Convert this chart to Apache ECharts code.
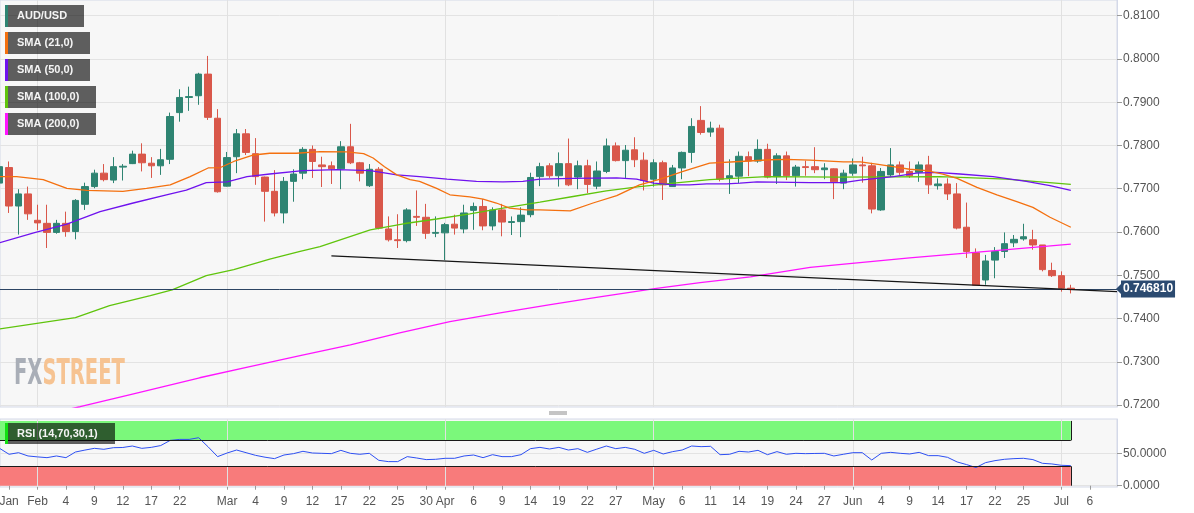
<!DOCTYPE html>
<html>
<head>
<meta charset="utf-8">
<title>AUD/USD</title>
<script src="https://cdn.jsdelivr.net/npm/echarts@6.0.0/dist/echarts.min.js"></script>
<style>
html, body { margin: 0; padding: 0; background: #fff; }
#charts-box { width: 1194px; height: 513px; }
</style>
</head>
<body>
<div id="charts-box"></div>
<script>
// daily candles, index 0 = Jan 26 (trading days only)
var opens = [0.7713,0.7749,0.7660,0.7688,0.7627,0.7620,0.7599,0.7620,0.7601,0.7664,
0.7705,0.7736,0.7720,0.7750,0.7758,0.7780,0.7759,0.7753,0.7768,0.7876,
0.7911,0.7915,0.7965,0.7863,0.7706,0.7774,0.7827,0.7781,0.7727,0.7694,
0.7644,0.7717,0.7736,0.7791,0.7755,0.7753,0.7746,0.7797,0.7760,0.7707,
0.7745,0.7607,0.7582,0.7580,0.7636,0.7634,0.7597,0.7598,0.7618,0.7607,
0.7650,0.7659,0.7614,0.7651,0.7622,0.7624,0.7640,0.7728,0.7753,0.7730,
0.7758,0.7727,0.7753,0.7706,0.7740,0.7799,0.7765,0.7790,0.7766,0.7722,
0.7760,0.7705,0.7748,0.7784,0.7858,0.7831,0.7840,0.7725,0.7729,0.7774,
0.7764,0.7791,0.7728,0.7776,0.7730,0.7751,0.7751,0.7744,0.7746,0.7713,
0.7736,0.7755,0.7753,0.7651,0.7732,0.7755,0.7740,0.7738,0.7755,0.7707,
0.7711,0.7688,0.7611,0.7552,0.7489,0.7535,0.7555,0.7575,0.7584,0.7582,
0.7570,0.7511,0.7499,0.7470];
var closes = [0.7751,0.7660,0.7688,0.7642,0.7621,0.7599,0.7620,0.7601,0.7673,0.7705,
0.7736,0.7721,0.7751,0.7752,0.7780,0.7760,0.7753,0.7767,0.7867,0.7911,
0.7913,0.7965,0.7865,0.7693,0.7772,0.7827,0.7784,0.7728,0.7694,0.7644,
0.7717,0.7734,0.7791,0.7763,0.7751,0.7746,0.7797,0.7760,0.7736,0.7745,
0.7609,0.7582,0.7580,0.7651,0.7634,0.7597,0.7599,0.7617,0.7609,0.7644,
0.7659,0.7614,0.7651,0.7623,0.7624,0.7639,0.7726,0.7751,0.7730,0.7758,
0.7709,0.7753,0.7710,0.7741,0.7799,0.7765,0.7789,0.7767,0.7719,0.7760,
0.7709,0.7748,0.7784,0.7844,0.7830,0.7840,0.7722,0.7730,0.7775,0.7764,
0.7791,0.7727,0.7776,0.7730,0.7750,0.7749,0.7744,0.7748,0.7716,0.7736,
0.7755,0.7753,0.7653,0.7740,0.7755,0.7738,0.7730,0.7755,0.7709,0.7711,
0.7688,0.7609,0.7555,0.7477,0.7533,0.7555,0.7573,0.7583,0.7589,0.7570,
0.7513,0.7499,0.7470,0.74681];
var lows = [0.7670,0.7644,0.7594,0.7628,0.7604,0.7563,0.7596,0.7589,0.7583,0.7651,
0.7701,0.7717,0.7713,0.7719,0.7757,0.7740,0.7725,0.7732,0.7757,0.7855,
0.7880,0.7894,0.7859,0.7691,0.7705,0.7736,0.7778,0.7709,0.7624,0.7636,
0.7620,0.7670,0.7722,0.7725,0.7704,0.7711,0.7699,0.7757,0.7717,0.7704,
0.7606,0.7578,0.7563,0.7576,0.7614,0.7584,0.7588,0.7535,0.7594,0.7597,
0.7605,0.7604,0.7604,0.7590,0.7593,0.7588,0.7634,0.7706,0.7725,0.7705,
0.7706,0.7699,0.7690,0.7699,0.7736,0.7763,0.7725,0.7750,0.7696,0.7705,
0.7674,0.7705,0.7722,0.7760,0.7825,0.7820,0.7717,0.7688,0.7713,0.7729,
0.7760,0.7724,0.7711,0.7720,0.7705,0.7730,0.7736,0.7722,0.7676,0.7699,
0.7730,0.7714,0.7643,0.7649,0.7727,0.7732,0.7725,0.7716,0.7688,0.7698,
0.7674,0.7606,0.7540,0.7477,0.7478,0.7493,0.7540,0.7565,0.7580,0.7559,
0.7509,0.7496,0.7462,0.7458];
var highs = [0.7767,0.7763,0.7699,0.7705,0.7663,0.7663,0.7628,0.7647,0.7676,0.7714,
0.7744,0.7757,0.7773,0.7757,0.7788,0.7805,0.7773,0.7792,0.7876,0.7930,
0.7936,0.7968,0.8007,0.7884,0.7785,0.7838,0.7838,0.7817,0.7728,0.7743,
0.7727,0.7745,0.7796,0.7800,0.7774,0.7763,0.7810,0.7850,0.7762,0.7757,
0.7750,0.7636,0.7641,0.7655,0.7696,0.7665,0.7636,0.7621,0.7640,0.7663,
0.7668,0.7676,0.7657,0.7665,0.7636,0.7657,0.7737,0.7760,0.7759,0.7784,
0.7816,0.7765,0.7767,0.7763,0.7816,0.7807,0.7801,0.7819,0.7784,0.7768,
0.7765,0.7755,0.7786,0.7863,0.7891,0.7855,0.7848,0.7768,0.7786,0.7786,
0.7814,0.7804,0.7782,0.7786,0.7755,0.7765,0.7796,0.7759,0.7747,0.7744,
0.7770,0.7774,0.7760,0.7748,0.7794,0.7763,0.7763,0.7763,0.7776,0.7724,
0.7724,0.7713,0.7668,0.7562,0.7547,0.7565,0.7599,0.7593,0.7619,0.7605,
0.7570,0.7529,0.7509,0.7478];
var lastPrice = 0.74681;

// moving averages: [day index, value]
var sma21 = [[0,0.7728],[1.8,0.7728],[4.6,0.7721],[7.1,0.7701],[9.2,0.7696],[13,0.7694],[15.5,0.7701],
[18,0.7709],[20.1,0.7728],[22,0.7748],[23.3,0.7749],[24.7,0.7763],[26.8,0.7778],[28.5,0.7782],
[31.3,0.7782],[33.8,0.7786],[36.6,0.7785],[38.4,0.7781],[39.4,0.7771],[40.6,0.7751],[41.9,0.7732],
[43.3,0.7721],[44.3,0.7717],[46.1,0.7701],[47.5,0.7686],[49.6,0.7681],[51,0.7676],[52.4,0.7667],
[53.8,0.7655],[55.6,0.7651],[57,0.7651],[60.2,0.7649],[62.6,0.7667],[65.1,0.7684],[67.5,0.7709],
[69.7,0.7722],[72.1,0.7740],[74.9,0.7759],[78.1,0.7763],[81.3,0.7767],[83,0.7768],[85.5,0.7766],
[89,0.7762],[90.8,0.7762],[92.5,0.7757],[94.6,0.7750],[96,0.7745],[97.8,0.7742],[99.5,0.7734],
[101,0.7724],[103.1,0.7703],[105.2,0.7686],[107.3,0.7670],[109,0.7657],[110.8,0.7634],[113,0.7611]];
var sma50 = [[0,0.7575],[3.6,0.7598],[7.1,0.7618],[10.6,0.7647],[14.1,0.7667],[17.6,0.7686],[19.7,0.7697],
[21.8,0.7714],[24,0.7716],[26.1,0.7728],[28.5,0.7734],[32,0.7742],[35.6,0.7744],[39.1,0.7742],
[41.9,0.7732],[44.3,0.7728],[47.2,0.7722],[50.3,0.7717],[53.1,0.7716],[55.2,0.7717],[57,0.7722],
[60.5,0.7724],[65.1,0.7725],[67.2,0.7722],[69,0.7713],[71.1,0.7709],[72.8,0.7709],[74.6,0.7711],
[76.7,0.7711],[78.1,0.7713],[79.9,0.7716],[85.5,0.7714],[89,0.7714],[90.8,0.7720],[94.3,0.7728],
[96.7,0.7736],[98.8,0.7738],[101.3,0.7734],[104.8,0.7728],[108.3,0.7717],[110.8,0.7707],[113,0.7696]];
var sma100 = [[0,0.7376],[8,0.7402],[11.6,0.7430],[15.9,0.7453],[18.2,0.7466],[21.8,0.7499],[24.7,0.7513],
[28.5,0.7537],[31.7,0.7555],[33.8,0.7566],[39.1,0.7605],[42.6,0.7619],[46.1,0.7630],[49.6,0.7642],
[53.1,0.7655],[57,0.7669],[60.5,0.7682],[64,0.7695],[67.5,0.7705],[71.1,0.7713],[74.9,0.7721],
[80.9,0.7728],[88.6,0.7727],[99.2,0.7728],[106.2,0.7722],[113,0.7710]];
var sma200 = [[0,0.7155],[8.5,0.7196],[13.8,0.7224],[21.1,0.7263],[26.4,0.7289],[31.7,0.7314],[37,0.7339],
[42.2,0.7367],[47.5,0.7393],[52.8,0.7413],[58.1,0.7432],[63.3,0.7450],[69.1,0.7469],[73.9,0.7483],
[79.2,0.7496],[85.5,0.7518],[96,0.7540],[106.6,0.7560],[113,0.7572]];

// RSI (14)
var rsi = [57.7,48.5,51,45.9,44.5,43.3,45.9,43.3,52,55,
57.7,56.2,58.7,59,61.3,57.7,59.2,62,70,71.5,
71.5,74.1,60,44.9,50.5,55.1,51,46.9,44,41.8,
47.4,49.5,53.1,50.5,50,49.5,54.6,50,48.5,50,
39.2,37.2,37.2,44.9,42.8,40.3,40.8,42.3,42.3,45.9,
47.4,43.3,47.9,44.9,44.9,47.9,57.2,59.2,56.7,59.2,
55.1,57.2,51.5,56.5,61.3,57.2,59.2,56.2,50,54.6,
49,52.6,55.1,61.3,60.3,60.8,47.9,48.5,53.1,52,
54.6,47.9,52.6,48.5,50,49.5,49.8,50,45.9,48.5,
51,51,39.7,50,51.5,50,49,51.5,46.4,46.4,
43.8,36.7,32.6,28,35.6,38.7,40.8,41.8,42.3,40.3,
34.6,33.6,31.5,31];
var rsiUpper = 70, rsiLower = 30, rsiTop = 100;

// axis ticks
var tickIdx = [1,4,7,10,13,16,19,24,27,30,33,36,39,42,45,47,50,53,56,59,62,65,
69,72,75,78,81,84,87,90,93,96,99,102,105,108,112,115];
var tickText = ['Jan','Feb','4','9','12','17','22','Mar','4','9','12','17','22','25','30','Apr','6','9','14','19','22','27',
'May','6','11','14','19','24','27','Jun','4','9','14','17','22','25','Jul','6'];
var monthIdx = [4, 24, 47, 69, 90, 112];
var priceTicks = [0.72, 0.73, 0.74, 0.75, 0.76, 0.77, 0.78, 0.79, 0.80, 0.81];
var rsiTicks = [0, 50];

var legendNames = ['AUD/USD', 'SMA (21,0)', 'SMA (50,0)', 'SMA (100,0)', 'SMA (200,0)'];

var xMin = 0.044, xMax = 117.87;
var yMin = 0.71954, yMax = 0.81363;

// support line from mid-March low area
var trendStart = [35, 0.7545];
var trendEnd = [xMax, 0.7462];

var upColor = '#2e8472', downColor = '#d9574a', tagColor = '#2b4a70';
var smaColors = ['#f4700f', '#6f12ee', '#5fc40c', '#ff14ff'];
var font = '"Liberation Sans", Arial, sans-serif';

var kData = [];
for (var i = 0; i < opens.length; i++) {
    kData.push([i, opens[i], closes[i], lows[i], highs[i]]);
}
var rsiData = [];
for (var i = 0; i < rsi.length; i++) {
    rsiData.push([i, rsi[i]]);
}
var lastIdx = opens.length - 1;

function tickLabel(v) {
    var k = tickIdx.indexOf(v);
    return k < 0 ? '' : tickText[k];
}

function monthLines() {
    return {
        silent: true,
        symbol: 'none',
        z: 1,
        label: { show: false },
        lineStyle: { color: '#e1e1e1', width: 1, type: 'solid' },
        data: monthIdx.map(function (m) { return { xAxis: m }; })
    };
}

function smaSeries(data, color) {
    return {
        type: 'line',
        xAxisIndex: 0,
        yAxisIndex: 0,
        data: data,
        showSymbol: false,
        silent: true,
        lineStyle: { color: color, width: 1.3 }
    };
}

// legend boxes, RSI box, watermark
var graphics = [];
var boxW = [79, 85, 85, 91, 91];
var boxColors = [upColor].concat(smaColors);
for (var k = 0; k < legendNames.length; k++) {
    var boxTop = 5 + k * 27;
    graphics.push({ type: 'rect', z: 100, shape: { x: 5, y: boxTop, width: boxW[k], height: 22 }, style: { fill: 'rgba(0,0,0,0.62)' } });
    graphics.push({ type: 'rect', z: 101, shape: { x: 5, y: boxTop, width: 3, height: 22 }, style: { fill: boxColors[k] } });
    graphics.push({ type: 'text', z: 101, style: { x: 17, y: boxTop + 11, text: legendNames[k], fill: '#f4f4f4', font: 'bold 11px ' + font, verticalAlign: 'middle' } });
}
graphics.push({ type: 'rect', z: 100, shape: { x: 7, y: 423, width: 108, height: 21 }, style: { fill: 'rgba(0,0,0,0.62)' } });
graphics.push({ type: 'rect', z: 101, shape: { x: 5, y: 423, width: 3, height: 21 }, style: { fill: '#12e012' } });
graphics.push({ type: 'text', z: 101, style: { x: 17, y: 434, text: 'RSI (14,70,30,1)', fill: '#f4f4f4', font: 'bold 11px ' + font, verticalAlign: 'middle' } });
graphics.push({
    type: 'text', z: 50, x: 14, y: 375, scaleX: 0.62,
    style: {
        text: '{a|FX}{b|STREET}', verticalAlign: 'middle',
        rich: {
            a: { fill: '#a9aeb7', font: 'bold 35px "DejaVu Sans Condensed", sans-serif' },
            b: { fill: '#f6c392', font: 'bold 35px "DejaVu Sans Condensed", sans-serif' }
        }
    }
});
graphics.push({ type: 'line', z: 50, shape: { x1: 549, y1: 412, x2: 567, y2: 412 }, style: { stroke: '#8a8a8a', lineWidth: 1 } });
graphics.push({ type: 'line', z: 50, shape: { x1: 549, y1: 414, x2: 567, y2: 414 }, style: { stroke: '#8a8a8a', lineWidth: 1 } });

var app = echarts.init(document.getElementById('charts-box'));

var option = {
    animation: false,
    backgroundColor: '#ffffff',
    textStyle: { fontFamily: font },
    grid: [
        { left: 0, right: 77, top: 0, height: 407, show: true, backgroundColor: '#f7f7f7', borderColor: '#d4d9e8', borderWidth: 1, outerBoundsMode: 'none' },
        { left: 0, right: 77, top: 419, height: 68, show: true, backgroundColor: '#f7f7f7', borderColor: '#d4d9e8', borderWidth: 1, outerBoundsMode: 'none' }
    ],
    xAxis: [
        {
            gridIndex: 0, type: 'value', min: xMin, max: xMax,
            axisLine: { show: false }, axisTick: { show: false }, axisLabel: { show: false }, splitLine: { show: false }
        },
        {
            gridIndex: 1, type: 'value', min: xMin, max: xMax,
            axisLine: { show: false },
            axisTick: { show: true, customValues: tickIdx, length: 4, lineStyle: { color: '#9a9a9a' } },
            axisLabel: { customValues: tickIdx, formatter: tickLabel, color: '#555', fontSize: 12, margin: 9, fontFamily: font },
            splitLine: { show: false }
        }
    ],
    yAxis: [
        {
            gridIndex: 0, type: 'value', position: 'right', min: yMin, max: yMax,
            axisLine: { show: true, lineStyle: { color: '#d4d9e8' } },
            axisTick: { show: true, customValues: priceTicks, length: 5, lineStyle: { color: '#9a9a9a' } },
            axisLabel: { customValues: priceTicks, formatter: function (v) { return v.toFixed(4); }, color: '#555', fontSize: 12, margin: 6, fontFamily: font },
            splitLine: { show: true, lineStyle: { color: '#e3e3e3', width: 1 } }
        },
        {
            gridIndex: 1, type: 'value', position: 'right', min: -2, max: 103,
            axisLine: { show: true, lineStyle: { color: '#d4d9e8' } },
            axisTick: { show: true, customValues: rsiTicks, length: 5, lineStyle: { color: '#9a9a9a' } },
            axisLabel: { customValues: rsiTicks, formatter: function (v) { return v.toFixed(4); }, color: '#555', fontSize: 12, margin: 6, fontFamily: font },
            splitLine: { show: true, lineStyle: { color: '#e3e3e3', width: 1 } }
        }
    ],
    graphic: graphics,
    series: [
        { type: 'line', xAxisIndex: 0, yAxisIndex: 0, data: [], silent: true, markLine: monthLines() },
        { type: 'line', xAxisIndex: 1, yAxisIndex: 1, data: [], silent: true, markLine: monthLines() },
        {
            name: 'AUD/USD',
            type: 'candlestick',
            xAxisIndex: 0,
            yAxisIndex: 0,
            data: kData,
            barWidth: 7,
            itemStyle: { color: upColor, color0: downColor, borderColor: upColor, borderColor0: downColor, borderWidth: 1 },
            markLine: {
                silent: true,
                symbol: 'none',
                precision: 6,
                data: [
                    {
                        yAxis: lastPrice,
                        lineStyle: { color: '#2c4463', width: 1, type: 'solid' },
                        label: {
                            show: true, position: 'end', distance: 4,
                            formatter: lastPrice.toFixed(6),
                            backgroundColor: tagColor, color: '#fff', fontWeight: 'bold', fontSize: 12,
                            padding: [3, 2, 2, 2], fontFamily: font
                        }
                    },
                    [
                        { coord: trendStart, lineStyle: { color: '#151515', width: 1.3, type: 'solid' }, label: { show: false } },
                        { coord: trendEnd }
                    ]
                ]
            },
            // little pointer in front of the price tag
            markPoint: {
                silent: true,
                symbol: 'triangle',
                symbolSize: [10, 5],
                symbolRotate: 90,
                symbolOffset: [1.5, 0],
                itemStyle: { color: tagColor },
                label: { show: false },
                data: [{ coord: [xMax, lastPrice] }]
            }
        },
        smaSeries(sma200, smaColors[3]),
        smaSeries(sma100, smaColors[2]),
        smaSeries(sma50, smaColors[1]),
        smaSeries(sma21, smaColors[0]),
        {
            type: 'line',
            xAxisIndex: 1,
            yAxisIndex: 1,
            data: rsiData,
            showSymbol: false,
            silent: true,
            lineStyle: { color: '#2d4ff2', width: 1 },
            markArea: {
                silent: true,
                data: [
                    [{ xAxis: xMin, yAxis: rsiUpper, itemStyle: { color: '#7bf87b' } }, { xAxis: lastIdx, yAxis: rsiTop }],
                    [{ xAxis: xMin, yAxis: 0, itemStyle: { color: '#f87b7b' } }, { xAxis: lastIdx, yAxis: rsiLower }]
                ]
            },
            markLine: {
                silent: true,
                symbol: 'none',
                label: { show: false },
                lineStyle: { color: '#1a1a1a', width: 1, type: 'solid' },
                data: [
                    [{ coord: [xMin, rsiUpper] }, { coord: [lastIdx, rsiUpper] }],
                    [{ coord: [xMin, rsiLower] }, { coord: [lastIdx, rsiLower] }],
                    [{ coord: [lastIdx, rsiUpper] }, { coord: [lastIdx, rsiTop] }],
                    [{ coord: [lastIdx, 0] }, { coord: [lastIdx, rsiLower] }]
                ]
            }
        }
    ]
};

app.setOption(option);
</script>
</body>
</html>
